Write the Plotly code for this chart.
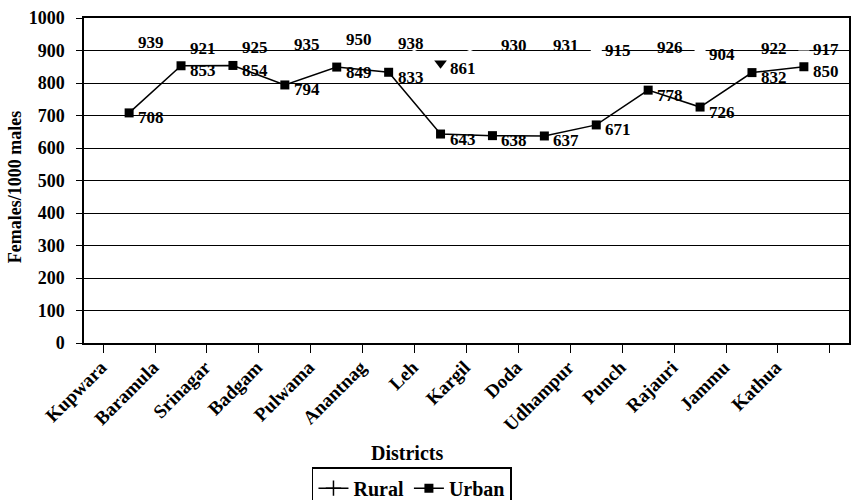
import plotly.graph_objects as go

# Sex ratio (females per 1000 males) by district
districts = ["Kupwara", "Baramula", "Srinagar", "Badgam", "Pulwama", "Anantnag", "Leh",
             "Kargil", "Doda", "Udhampur", "Punch", "Rajauri", "Jammu", "Kathua"]
rural = [939, 921, 925, 935, 950, 938, 861, 930, 931, 915, 926, 904, 922, 917]
urban = [708, 853, 854, 794, 849, 833, 643, 638, 637, 671, 778, 726, 832, 850]
y_ticks = [0, 100, 200, 300, 400, 500, 600, 700, 800, 900, 1000]

FONT = "Liberation Serif"

fig = go.Figure()

# Rural series: line drawn in white over the grid, Leh point shown as a dark marker
rural_colors = ["black" if d == "Leh" else "white" for d in districts]
rural_symbols = ["triangle-down" if d == "Leh" else "square" for d in districts]
fig.add_trace(go.Scatter(
    x=districts, y=rural, mode="lines+markers", showlegend=False,
    line=dict(color="white", width=1.5),
    marker=dict(color=rural_colors, symbol=rural_symbols, size=11, line=dict(width=0)),
    cliponaxis=False,
))
# Legend entry for the rural series
fig.add_trace(go.Scatter(
    x=[None], y=[None], mode="lines+markers", name="Rural",
    line=dict(color="black", width=1.5),
    marker=dict(symbol="cross-thin", size=11, line=dict(color="black", width=1.5)),
))
fig.add_trace(go.Scatter(
    x=districts, y=urban, mode="lines+markers", name="Urban",
    line=dict(color="black", width=1.5),
    marker=dict(color="black", symbol="square", size=9),
    cliponaxis=False,
))

annotations = []
for series in (rural, urban):
    for d, v in zip(districts, series):
        annotations.append(dict(
            x=d, y=v, text=str(v), showarrow=False, xanchor="left", yanchor="middle",
            xshift=7, yshift=-5, font=dict(family=FONT, size=17, color="black", weight="bold"),
        ))

annotations.append(dict(
    x=0.422, y=-0.338, xref="paper", yref="paper", text="Districts", showarrow=False,
    xanchor="center", yanchor="middle",
    font=dict(family=FONT, size=20, color="black", weight="bold"),
))
annotations.append(dict(
    x=-0.09, y=0.48, xref="paper", yref="paper", text="Females/1000 males", showarrow=False,
    textangle=-90, xanchor="center", yanchor="middle",
    font=dict(family=FONT, size=18, color="black", weight="bold"),
))

fig.update_layout(
    width=852, height=500,
    margin=dict(l=84, r=3, t=18, b=157, autoexpand=False),
    paper_bgcolor="white", plot_bgcolor="white",
    font=dict(family=FONT, color="black", weight="bold"),
    annotations=annotations,
    legend=dict(
        orientation="h", x=0.298, y=-0.382, xanchor="left", yanchor="top",
        bordercolor="black", borderwidth=1.5, bgcolor="white",
        font=dict(family=FONT, size=20, color="black", weight="bold"),
        itemwidth=30, tracegroupgap=0,
    ),
    xaxis=dict(
        type="category", categoryarray=districts, tickangle=-45, tickson="boundaries",
        ticks="outside", ticklen=8, tickcolor="black", tickwidth=1.3,
        showline=True, linecolor="black", linewidth=1.5, mirror=True,
        showgrid=False, zeroline=False, automargin=False,
        ticklabelshift=-28, ticklabelstandoff=4,
        tickfont=dict(family=FONT, size=19, color="black", weight="bold"),
    ),
    yaxis=dict(
        range=[0, 1000], tickvals=y_ticks, ticktext=[str(t) for t in y_ticks],
        ticks="outside", ticklen=6, tickcolor="black", tickwidth=1.3,
        showline=True, linecolor="black", linewidth=1.5, mirror=True,
        showgrid=True, gridcolor="black", gridwidth=1.3, zeroline=False,
        ticklabelstandoff=8, automargin=False,
        tickfont=dict(family=FONT, size=18, color="black", weight="bold"),
    ),
)

fig.write_html("out.html")
